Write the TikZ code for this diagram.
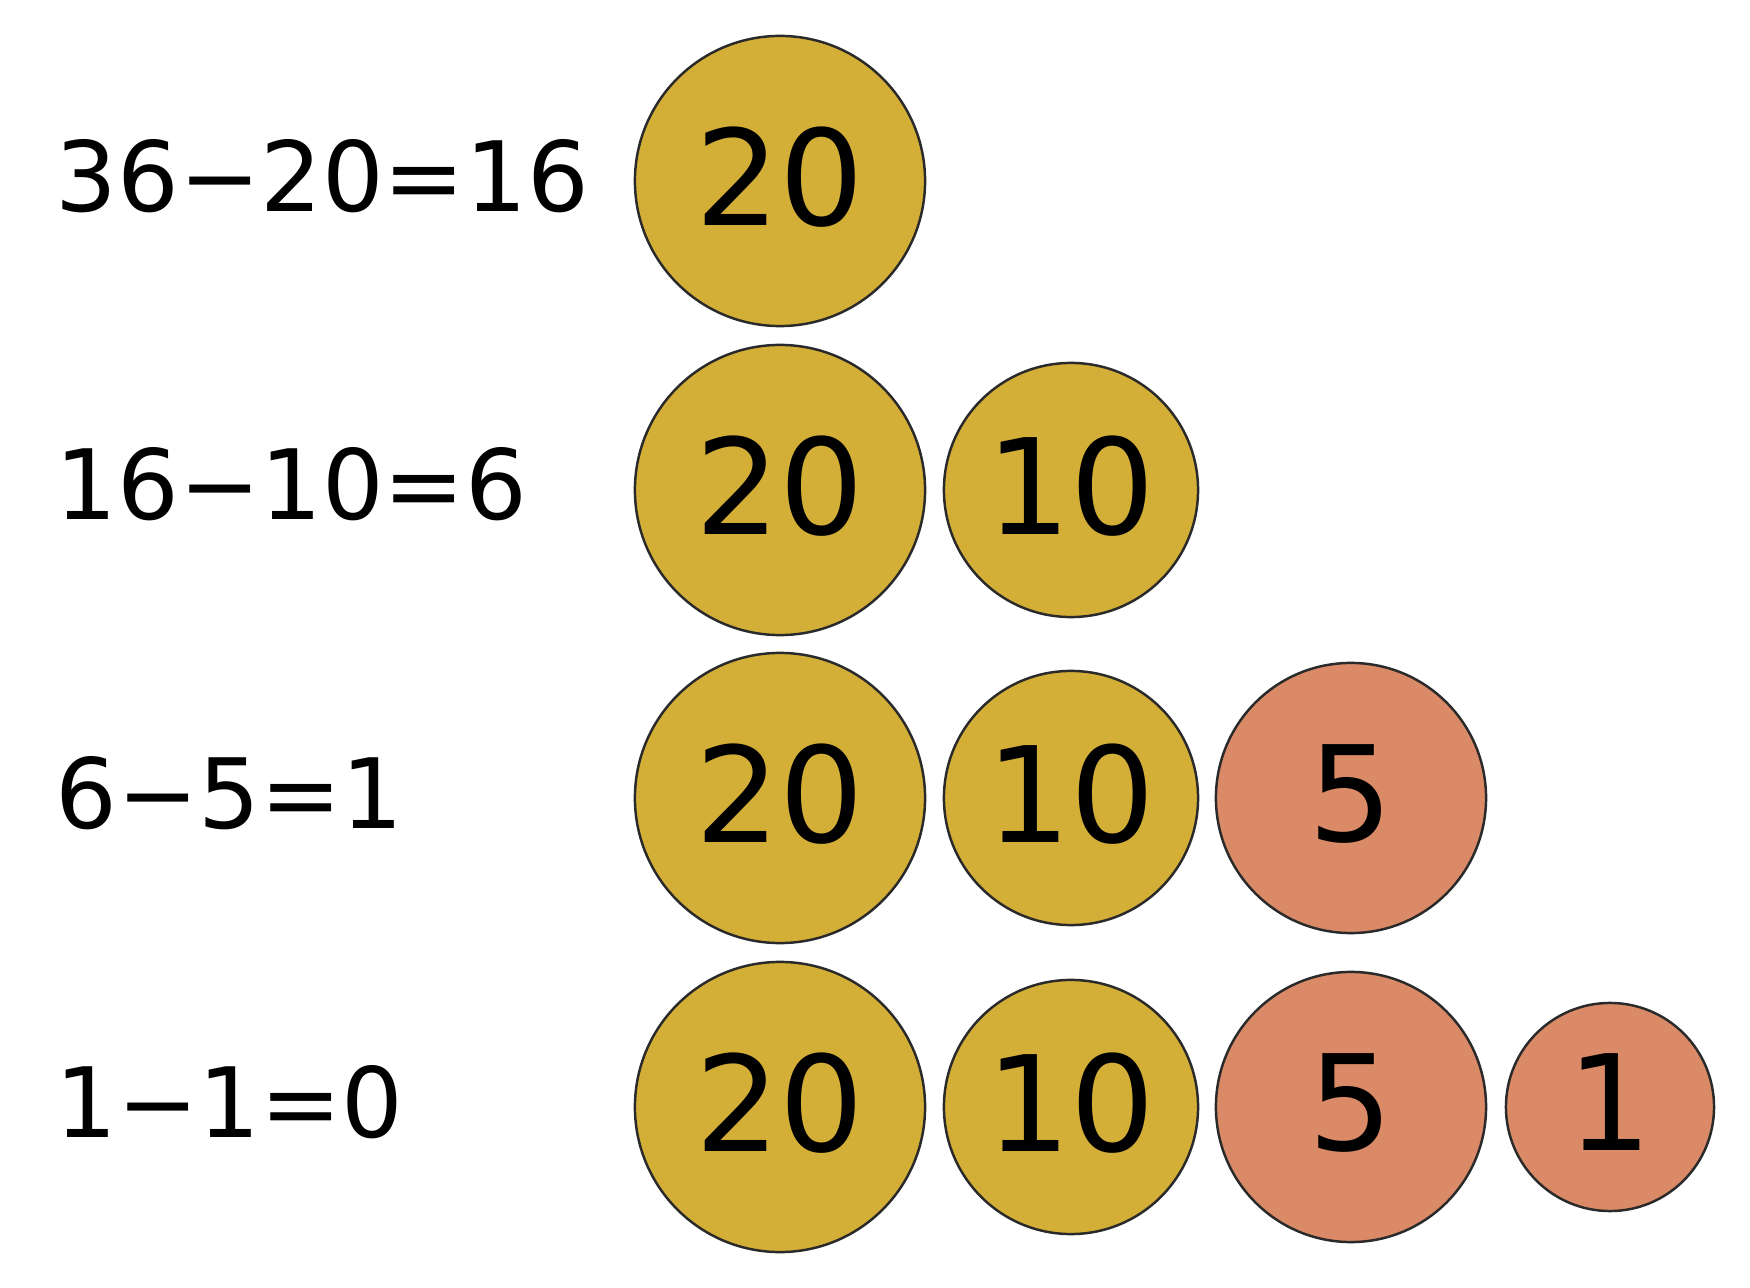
\documentclass[tikz,border=0pt]{standalone}
\usepackage{fontspec}
\setmainfont{DejaVu Sans}
\definecolor{gold}{HTML}{D4AF37}
\definecolor{salmon}{HTML}{DA8A67}
\definecolor{rim}{HTML}{2A2A2A}
\begin{document}
\begin{tikzpicture}[x=0.01cm,y=-0.01cm,
  eqtext/.style={anchor=base west,inner sep=0pt,font=\fontsize{27.6pt}{30pt}\selectfont},
  coin/.style={circle,draw=rim,line width=0.7pt,inner sep=0pt,text depth=0.1cm,
    font=\fontsize{37.8pt}{40pt}\selectfont},
  c20/.style={coin,fill=gold,minimum size=2.9cm},
  c10/.style={coin,fill=gold,minimum size=2.54cm},
  c5/.style={coin,fill=salmon,minimum size=2.7cm},
  c1/.style={coin,fill=salmon,minimum size=2.08cm}]
\useasboundingbox (0,0) rectangle (1750,1288);
% equations
\node[eqtext] (eq1) at (55,212) {36−20=16};
\node[eqtext] (eq2) at (55,520) {16−10=6};
\node[eqtext] (eq3) at (55,829) {6−5=1};
\node[eqtext] (eq4) at (55,1137) {1−1=0};
% row 1
\node[c20] (r1a) at (780,181) {20};
% row 2
\node[c20] (r2a) at (780,490) {20};
\node[c10] (r2b) at (1071,490) {10};
% row 3
\node[c20] (r3a) at (780,798) {20};
\node[c10] (r3b) at (1071,798) {10};
\node[c5] (r3c) at (1351,798) {5};
% row 4
\node[c20] (r4a) at (780,1107) {20};
\node[c10] (r4b) at (1071,1107) {10};
\node[c5] (r4c) at (1351,1107) {5};
\node[c1] (r4d) at (1610,1107) {1};
\end{tikzpicture}
\end{document}
